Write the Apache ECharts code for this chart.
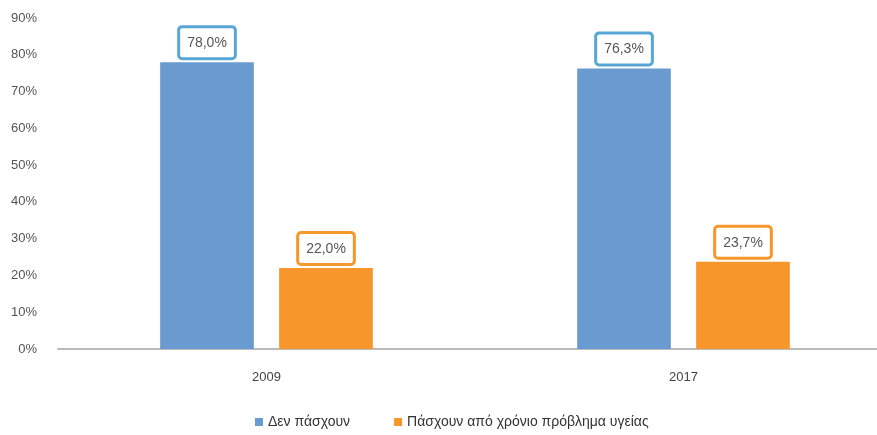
<!DOCTYPE html>
<html><head><meta charset="utf-8">
<script src="https://cdn.jsdelivr.net/npm/echarts@6/dist/echarts.min.js"></script>
<style>html,body{margin:0;padding:0;background:#fff}#c{width:877px;height:435px}</style>
</head><body><div id="c"></div>
<script>
const categories = ['2009', '2017'];
const seriesNames = ['Δεν πάσχουν', 'Πάσχουν από χρόνιο πρόβλημα υγείας'];
const notSuffering = [78.0, 76.3];
const suffering = [22.0, 23.7];
const yTicks = [0, 10, 20, 30, 40, 50, 60, 70, 80, 90];

const font = "'Liberation Sans Narrow', 'Liberation Sans', Arial, sans-serif";
const fmt = p => p.value.toFixed(1).replace('.', ',') + '%';
function lbl(border) {
  return {
    show: true, position: 'top', distance: 5, formatter: fmt,
    fontFamily: font, fontSize: 14, color: '#555',
    backgroundColor: '#fff', borderColor: border, borderWidth: 3, borderRadius: 2,
    padding: [8, 7, 7, 7]
  };
}
const chart = echarts.init(document.getElementById('c'));
chart.setOption({
  animation: false,
  textStyle: { fontFamily: font },
  grid: { left: 58, width: 834, top: 18, bottom: 86, outerBoundsMode: 'none', containLabel: false },
  legend: {
    bottom: 1, left: 250, itemWidth: 8, itemHeight: 8, itemGap: 44, icon: 'rect',
    textStyle: { fontFamily: font, fontSize: 14, color: '#333' },
    data: seriesNames
  },
  xAxis: {
    type: 'category', data: categories,
    axisLine: { lineStyle: { color: '#bbb', width: 2 } },
    axisTick: { show: false },
    axisLabel: { fontFamily: font, fontSize: 13, color: '#444', margin: 22 }
  },
  yAxis: {
    type: 'value', min: yTicks[0], max: yTicks[yTicks.length - 1], interval: 10,
    axisLine: { show: false }, axisTick: { show: false }, splitLine: { show: false },
    axisLabel: { fontFamily: font, fontSize: 13, color: '#555', margin: 21, formatter: v => v + '%' }
  },
  series: [
    { name: seriesNames[0], type: 'bar', data: notSuffering, barGap: '27%', barCategoryGap: '49%',
      itemStyle: { color: '#6a9bd0' }, label: lbl('#58a6d6') },
    { name: seriesNames[1], type: 'bar', data: suffering,
      itemStyle: { color: '#f7962a' }, label: lbl('#f7962a') }
  ]
});
</script></body></html>
